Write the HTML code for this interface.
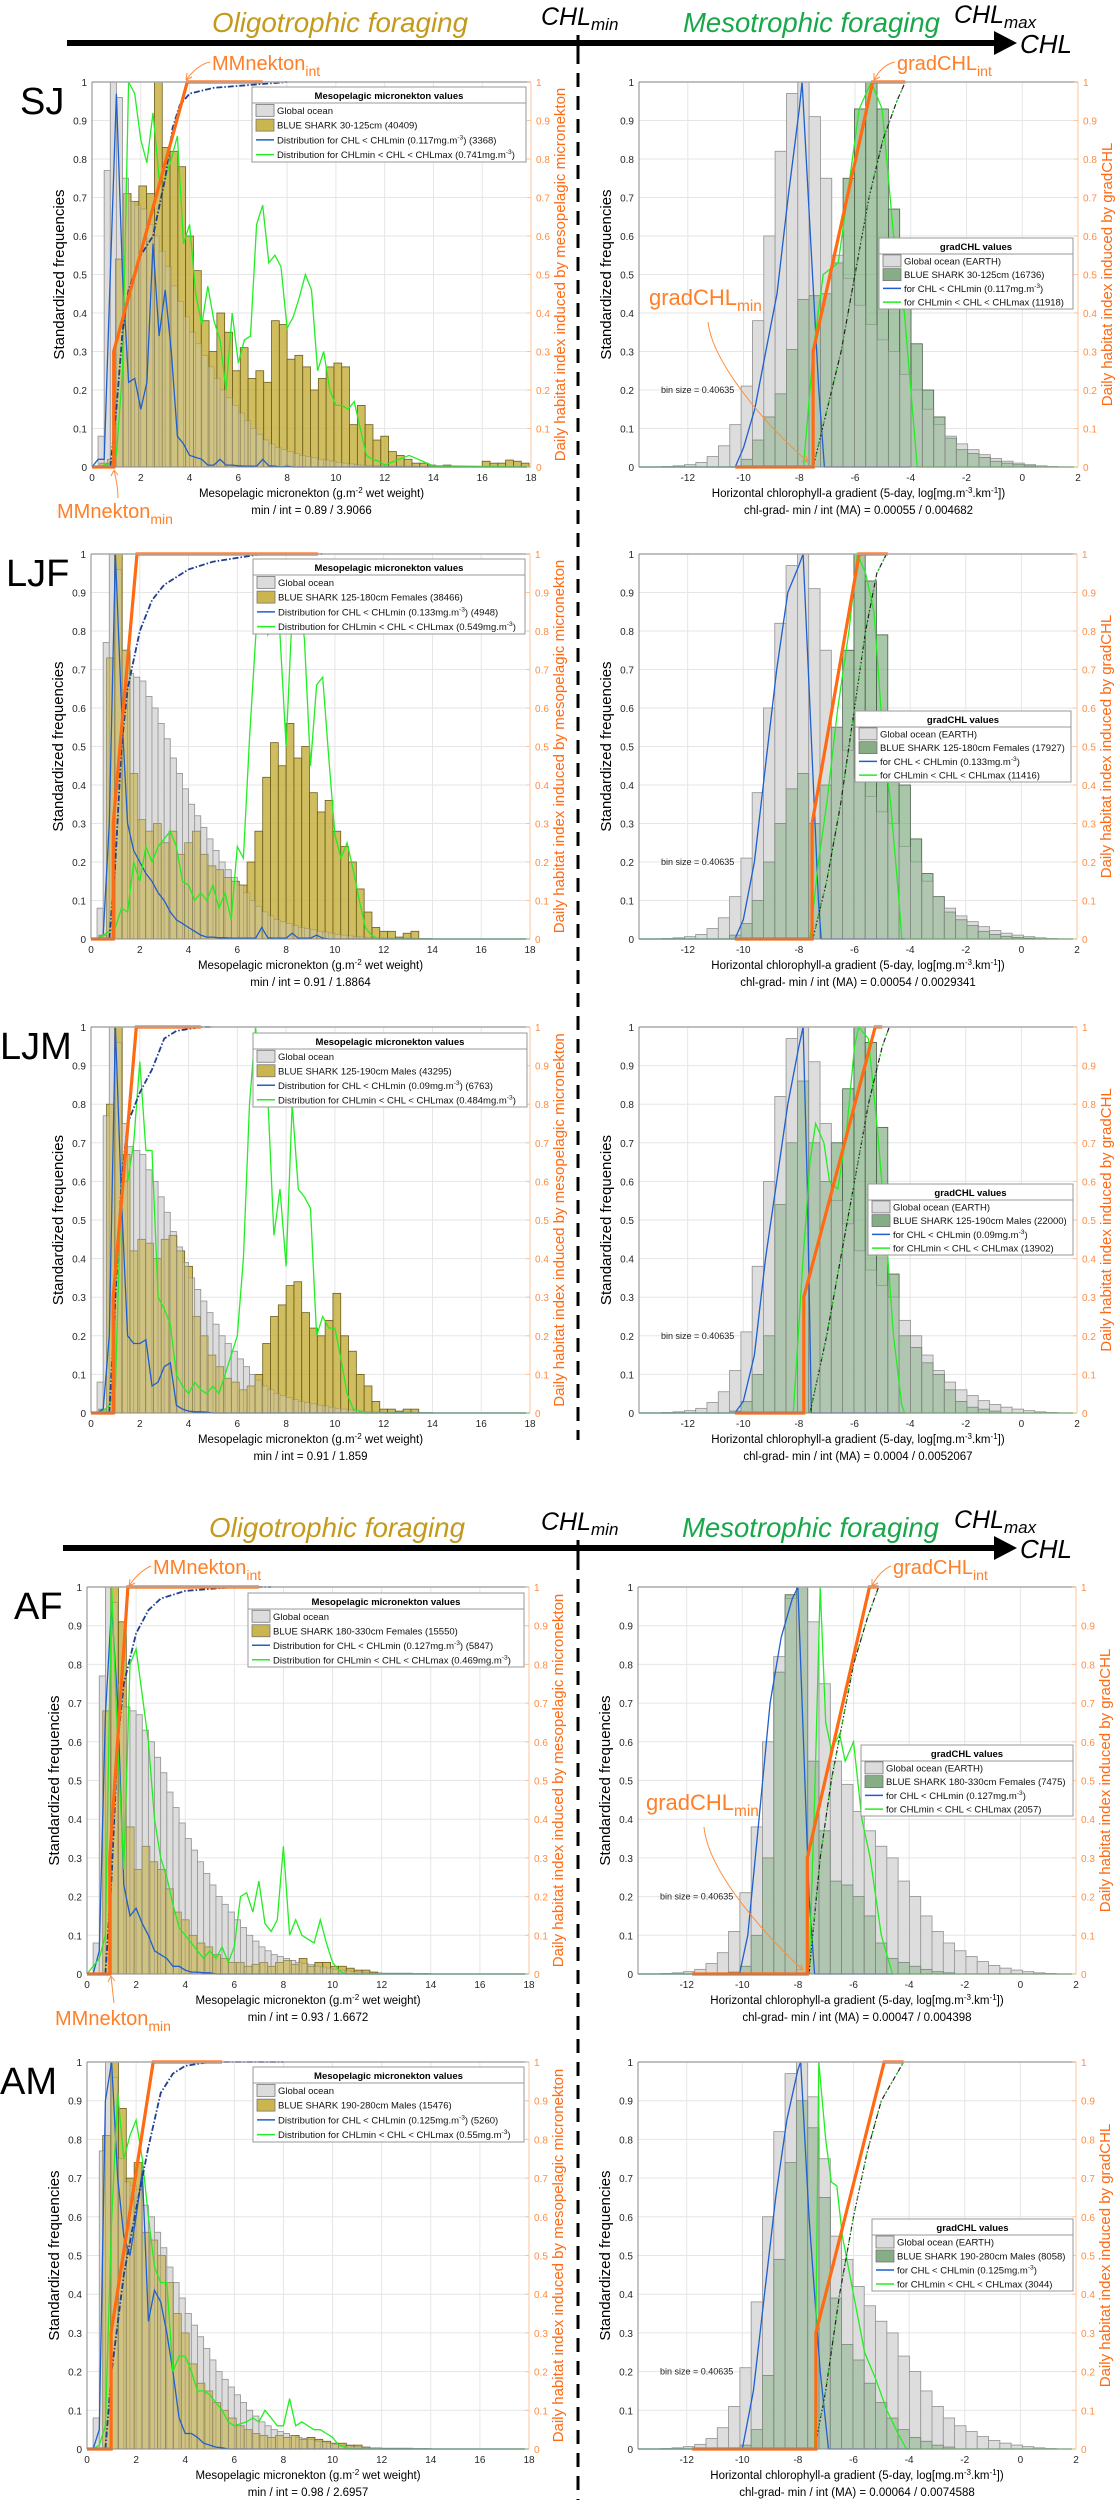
<!DOCTYPE html>
<html><head><meta charset="utf-8"><style>
html,body{margin:0;padding:0;background:#fff;}
svg{display:block;font-family:"Liberation Sans",sans-serif;}
</style></head><body>
<svg id="fig" xmlns="http://www.w3.org/2000/svg" width="1116" height="2500" viewBox="0 0 1116 2500"></svg>
<script>
// ---------- DATA ----------
const yTicks=[0,0.1,0.2,0.3,0.4,0.5,0.6,0.7,0.8,0.9,1];
const yTickLabels=['0','0.1','0.2','0.3','0.4','0.5','0.6','0.7','0.8','0.9','1'];
const leftXTicks=[0,2,4,6,8,10,12,14,16,18];
const rightXTicks=[-12,-10,-8,-6,-4,-2,0,2];
const LX=[0,0.25,0.5,0.75,1,1.25,1.5,1.75,2,2.25,2.5,2.75,3,3.25,3.5,3.75,4,4.25,4.5,4.75,5,5.25,5.5,5.75,6,6.25,6.5,6.75,7,7.25,7.5,7.75,8,8.25,8.5,8.75,9,9.25,9.5,9.75,10,10.25,10.5,10.75,11,11.25,11.5,11.75,12,13,14,18];
const grayLeft=[0,.08,.77,1.0,.96,.75,.69,.68,.67,.63,.6,.56,.52,.47,.43,.39,.35,.32,.29,.26,.23,.2,.18,.16,.14,.12,.1,.085,.07,.06,.05,.045,.04,.035,.03,.027,.024,.02,.018,.015,.012,.01,.008,.006,.005,.004,.003,.003,.002,.002,.002,.002,.002,.001,.001,.001];
const grayRight=[.001,.003,.006,.012,.027,.055,.11,.21,.38,.6,.82,.97,1.0,.91,.75,.55,.49,.42,.37,.33,.3,.24,.2,.15,.11,.08,.06,.045,.032,.022,.015,.01,.006,.003,.001];

const sjYellow=[0,.01,.02,.54,.71,.69,.73,.71,1.0,.83,.82,.78,.6,.51,.38,.3,.4,.35,.25,.31,.23,.25,.22,.38,.37,.28,.29,.26,.2,.23,.26,.27,.26,.11,.16,.11,.07,.08,.04,.03,.02,.01,.01,.005,0,.005,0,0,0,0,.015,.01,.01,.018,.015,.01];
const sjBlue=[0,.02,.02,.5,.97,.5,.22,.23,.15,.22,.58,.34,.46,.3,.08,.06,.03,.025,.02,.005,.005,.02,.005,.005,.003,.002,.002,.002,.02,.003,.002,0,.002,0,0,0,0,0,0,0,0,0,0,0,0,0,0,0,0,0,0,0];
const sjGreen=[0,0,.005,.01,.03,.25,1.0,.97,.85,.79,.92,.75,.75,.8,.86,.58,.63,.45,.37,.47,.38,.33,.2,.4,.27,.33,.34,.63,.68,.53,.55,.52,.36,.39,.44,.5,.46,.25,.3,.2,.16,.16,.15,.17,.1,.03,.02,.015,.005,.03,.003,0];
const sjCumX=[0.75,1.0,1.25,1.5,2,2.5,3,3.3,3.6,4,5,6,8];
const sjCumY=[0,.15,.35,.46,.55,.6,.75,.88,.94,.97,.985,.99,1.0];
const sjMinInt=[0.89,3.9066];
const sjRGreen=[0,0,0,0,0,0,0,.02,.07,.13,.19,.305,.435,.445,.45,.53,.75,.93,1.0,.93,.67,.43,.32,.2,.13,.075,.045,.035,.025,.015,.01,.006,.003,0,0];
const sjRBlueX=[-13.75,-10.3,-10,-9.6,-9.2,-8.8,-8.4,-8.0,-7.9,-7.6,-7.3,-7.1,-4];
const sjRBlueY=[0,0,.05,.15,.3,.45,.7,.93,1.0,.6,.2,0,0];
const sjRGreenX=[-13.75,-7.85,-7.5,-7.14,-6.6,-5.85,-5.42,-5.03,-4.55,-4.23,-3.77,2];
const sjRGreenY=[0,0,.3,.5,.53,.93,1.0,.93,.55,.4,0,0];
const sjRCumX=[-7.5,-7.0,-6.5,-6.0,-5.5,-5.0,-4.5,-4.2];
const sjRCumY=[0,.15,.3,.5,.7,.85,.95,1.0];
const sjRMinInt=[0.00055,0.004682];

const ljfYellow=[0,.01,.73,1.0,.75,.43,.31,.28,.3,.25,.28,.22,.25,.28,.22,.19,.18,.16,.15,.14,.2,.28,.42,.51,.45,.56,.47,.5,.38,.33,.36,.28,.24,.2,.13,.07,.03,.02,.02,.005,.015,.02,0];
const ljfBlue=[0,0,.01,.3,1.0,.6,.3,.23,.2,.17,.15,.12,.1,.07,.05,.04,.03,.02,.01,.005,.005,.003,.003,.002,.002,.002,.002,.002,.03,.003,.002,.002,.002,.015,.002,.002,.002,.01,.002,0,0,0,0,0,0,0,0,0,0,0,0,0];
const ljfGreen=[0,0,.01,.02,.03,.08,.07,.2,.15,.24,.2,.24,.26,.28,.24,.15,.14,.1,.12,.1,.14,.08,.12,.05,.24,.21,.52,.78,.97,.79,.82,.79,.5,.85,.9,.78,.45,.66,.68,.47,.27,.21,.25,.18,.1,.03,.01,0,0,0,0,0];
const ljfCumX=[0.75,1.0,1.25,1.5,2.0,2.5,3.0,4,5,6,7,9.5];
const ljfCumY=[0,.2,.5,.65,.8,.88,.92,.96,.98,.99,1.0,1.0];
const ljfMinInt=[0.91,1.8864];
const ljfRGreen=[0,0,0,0,0,0,.01,.04,.1,.2,.3,.39,.43,.3,.4,.55,.75,1.0,.93,.79,.58,.4,.26,.17,.11,.07,.05,.035,.02,.012,.007,.004,.002,0,0];
const ljfRBlueX=[-13.75,-10.3,-10,-9.6,-9.2,-8.8,-8.4,-8.0,-7.85,-7.6,-7.3,-7.2,-4.2];
const ljfRBlueY=[0,0,.05,.2,.45,.7,.9,.97,1.0,.6,.1,0,0];
const ljfRGreenX=[-13.75,-7.6,-7.3,-7.0,-6.6,-6.2,-5.9,-5.6,-5.3,-5.0,-4.7,-4.4,-4.3,2];
const ljfRGreenY=[0,0,.2,.35,.6,.8,1.0,.95,.85,.55,.35,.1,0,0];
const ljfRCumX=[-7.5,-7,-6.5,-6.0,-5.6,-5.2,-4.85];
const ljfRCumY=[0,.15,.35,.6,.8,.95,1.0];
const ljfRMinInt=[0.00054,0.0029341];

const ljmYellow=[0,.01,.8,1.0,.67,.42,.45,.44,.4,.45,.46,.42,.38,.25,.2,.15,.12,.09,.08,.06,.07,.1,.18,.25,.28,.33,.34,.26,.22,.2,.24,.31,.2,.16,.1,.07,.03,.01,.01,.005,.01,.01,0];
const ljmBlue=[0,0,.01,.2,1.0,.55,.2,.18,.18,.19,.07,.08,.12,.13,.02,.01,.005,.003,.003,.002,0,0,0,0,0,0,0,0,0,0,0,0,0,0,0,0,0,0,0,0,0,0,0,0,0,0,0,0,0,0,0,0];
const ljmGreen=[0,0,.005,.02,.07,.6,.6,.7,.91,.68,.68,.3,.27,.23,.1,.07,.05,.08,.06,.05,.07,.05,.1,.15,.2,.4,.8,1.0,.8,.82,.46,.58,.38,.8,.58,.56,.53,.2,.25,.22,.22,.14,.05,.01,.005,0,0,0,0,0,0,0];
const ljmCumX=[0.75,1.0,1.25,1.5,2.0,2.5,3.0,3.5,4.5,5.0];
const ljmCumY=[0,.3,.6,.75,.83,.89,.97,.99,1.0,1.0];
const ljmMinInt=[0.91,1.859];
const ljmRGreen=[0,0,0,0,0,0,.005,.03,.1,.2,.54,.7,.86,.7,.6,.7,.84,1.0,.96,.74,.36,.2,.17,.13,.1,.06,.03,.015,.01,.005,0,0,0,0,0];
const ljmRBlueX=[-13.75,-10.3,-10,-9.6,-9.2,-8.8,-8.4,-8.0,-7.85,-7.7,-7.55,-4.2];
const ljmRBlueY=[0,0,.03,.15,.4,.6,.8,.95,1.0,.6,0,0];
const ljmRGreenX=[-13.75,-8.2,-7.85,-7.6,-7.4,-7.1,-6.9,-6.6,-6.3,-6.0,-5.85,-5.5,-5.2,-4.9,-4.6,-4.3,-4.2,2];
const ljmRGreenY=[0,0,.4,.65,.75,.7,.6,.58,.72,.95,1.0,.97,.75,.5,.2,.02,0,0];
const ljmRCumX=[-7.6,-7,-6.5,-6,-5.5,-5.0,-4.75];
const ljmRCumY=[0,.2,.4,.6,.8,.95,1.0];
const ljmRMinInt=[0.0004,0.0052067];

const afYellow=[0,0,.68,1.0,.91,.38,.27,.33,.29,.27,.22,.16,.14,.1,.08,.07,.05,.04,.03,.03,.02,.025,.03,.02,.03,.035,.025,.04,.02,.03,.03,.02,.02,.015,.01,.01,.005];
const afBlue=[0,0,.06,.67,.95,.7,.23,.15,.17,.13,.1,.06,.05,.04,.02,.02,.01,.005,.005,.003,.003,0,0,0,0,0,0,0,0,0,0,0,0,0,0,0,0,0,0,0,0,0,0,0,0,0,0,0,0,0,0,0];
const afGreen=[0,.02,.04,.1,1.0,.6,.27,.8,.84,.72,.6,.4,.3,.25,.18,.12,.1,.08,.06,.04,.06,.04,.07,.03,.07,.2,.21,.16,.24,.13,.11,.14,.33,.1,.14,.1,.09,.08,.14,.08,.03,.01,0,0,0,0,0,0,0,0,0,0];
const afCumX=[0.75,1.0,1.25,1.5,2.0,2.5,3,4,6,7.5];
const afCumY=[0,.25,.6,.75,.88,.94,.97,.99,1.0,1.0];
const afMinInt=[0.93,1.6672];
const afRGreen=[0,0,0,0,0,0,.005,.02,.1,.3,.78,.98,1.0,.55,.37,.24,.23,.2,.15,.08,.04,.03,.02,.012,.006,.003,0,0,0,0,0,0,0,0,0];
const afRBlueX=[-13.75,-10.1,-9.8,-9.4,-9.0,-8.6,-8.2,-8.0,-7.8,-7.6,-7.4,-4.6];
const afRBlueY=[0,0,.1,.4,.7,.87,.97,1.0,.6,.2,0,0];
const afRGreenX=[-13.75,-7.6,-7.4,-7.2,-7.0,-6.8,-6.5,-6.3,-6.0,-5.7,-5.4,-5.0,-4.6,2];
const afRGreenY=[0,0,.45,1.0,.65,.58,.62,.55,.6,.4,.3,.1,0,0];
const afRCumX=[-7.6,-7.2,-6.8,-6.4,-6.0,-5.5,-5.1];
const afRCumY=[0,.3,.5,.65,.8,.92,1.0];
const afRMinInt=[0.00047,0.004398];

const amYellow=[0,0,.81,1.0,.88,.7,.74,.56,.54,.5,.43,.35,.3,.22,.17,.15,.12,.1,.08,.06,.05,.04,.035,.03,.035,.03,.035,.025,.03,.025,.02,.015,.015,.01,.01,.005];
const amBlue=[0,0,.05,.9,1.0,.7,.55,.5,.6,.72,.33,.41,.38,.3,.2,.08,.04,.04,.03,.015,.01,.005,.003,0,0,0,0,0,0,0,0,0,0,0,0,0,0,0,0,0,0,0,0,0,0,0,0,0,0,0,0,0];
const amGreen=[0,0,.01,.06,.59,.92,.75,.81,.85,.75,.6,.47,.43,.43,.2,.24,.24,.2,.15,.15,.14,.12,.1,.07,.06,.065,.07,.08,.07,.1,.08,.06,.06,.13,.06,.07,.06,.05,.05,.04,.03,.01,.005,0,0,0,0,0,0,0,0,0];
const amCumX=[0.75,1.0,1.5,2.0,2.5,3.0,3.5,4,5,8];
const amCumY=[0,.2,.45,.62,.78,.92,.97,.99,1.0,1.0];
const amMinInt=[0.98,2.6957];
const amRGreen=[0,0,0,0,0,0,0,.01,.05,.19,.49,.74,.9,.83,.65,.39,.27,.23,.17,.12,.08,.05,.03,.02,.01,.005,0,0,0,0,0,0,0,0,0];
const amRBlueX=[-13.75,-10,-9.6,-9.2,-8.8,-8.4,-8.0,-7.9,-7.6,-7.2,-6.9,-4.0];
const amRBlueY=[0,0,.15,.4,.65,.85,.98,1.0,.6,.2,0,0];
const amRGreenX=[-13.75,-7.4,-7.25,-7.0,-6.8,-6.6,-6.4,-6.0,-5.6,-5.2,-4.8,-4.4,-4.1,2];
const amRGreenY=[0,0,1.0,.8,.69,.68,.55,.4,.25,.18,.1,.04,0,0];
const amRCumX=[-7.4,-7,-6.5,-6,-5.5,-5.0,-4.2];
const amRCumY=[0,.15,.4,.6,.77,.9,1.0];
const amRMinInt=[0.00064,0.0074588];

// ---------- DRAWING ----------
const NS='http://www.w3.org/2000/svg';
const svg=document.getElementById('fig');
const OR='#ff6a13', ORL='#ff8c42';
function mk(tag,attrs,parent){const e=document.createElementNS(NS,tag);for(const k in attrs)e.setAttribute(k,attrs[k]);(parent||svg).appendChild(e);return e;}
function tx(parent,x,y,str,attrs){const a=Object.assign({x:x,y:y},attrs||{});const e=mk('text',a,parent);e.textContent=str;return e;}
function fitText(e,maxW){try{const w=e.getComputedTextLength();if(w>maxW){e.setAttribute('textLength',maxW);e.setAttribute('lengthAdjust','spacingAndGlyphs');}}catch(err){}}
function sup(parent,str,dy){const t=mk('tspan',{dy:dy,'font-size':'0.7em'},parent);t.textContent=str;return t;}
function plain(parent,str,dy){const t=mk('tspan',{dy:dy},parent);t.textContent=str;return t;}

function header(y,lineX0,oligoX,mesoX,chlMinX,chlMaxX){
  const g=mk('g',{});
  
  
  const ln=mk('line',{x1:lineX0,y1:y,x2:998,y2:y,stroke:'#000','stroke-width':6},g);
  
  
  const hd=mk('polygon',{points:`994,${y-12} 994,${y+12} 1017,${y}`,fill:'#000'},g);
  
  
  const tk=mk('line',{x1:578,y1:y-8,x2:578,y2:y+8,stroke:'#000','stroke-width':3},g);
  
  
  const t1=tx(g,oligoX,y-11,'Oligotrophic foraging',{'font-size':28,'font-style':'italic',fill:'#c49a1c',textLength:256,lengthAdjust:'spacingAndGlyphs'});
  
  
  const t2=tx(g,mesoX,y-11,'Mesotrophic foraging',{'font-size':28,'font-style':'italic',fill:'#18a84a',textLength:257,lengthAdjust:'spacingAndGlyphs'});
  
  
  const t3=tx(g,chlMinX,y-18,'CHL',{'font-size':25,'font-style':'italic',fill:'#000'});
  sup(t3,'min',5).setAttribute('font-size','17');
  
  
  const t4=tx(g,chlMaxX,y-20,'CHL',{'font-size':25,'font-style':'italic',fill:'#000'});
  sup(t4,'max',5).setAttribute('font-size','17');
  
  
  const t5=tx(g,1020,y+10,'CHL',{'font-size':26,'font-style':'italic',fill:'#000'});
  
  
}

function dashed(y1,y2){
  const d=mk('line',{x1:578,y1:y1,x2:578,y2:y2,stroke:'#000','stroke-width':3,'stroke-dasharray':'14 9'});
  
  
}

function axesFrame(g,p,X,Y,xTicks){
  for(const v of xTicks){
    const l=mk('line',{x1:X(v),y1:p.top,x2:X(v),y2:p.bot,stroke:'#e6e6e6','stroke-width':1},g);
    
    
  }
  for(const v of yTicks){
    const l=mk('line',{x1:p.L,y1:Y(v),x2:p.R,y2:Y(v),stroke:'#e6e6e6','stroke-width':1},g);
    
    
  }
}
function axesOverlay(g,p,X,Y,xTicks,xLab,sub,yR){
  const tp=mk('line',{x1:p.L,y1:p.top,x2:p.R,y2:p.top,stroke:'#aaa','stroke-width':1.5},g);
  
  
  const la=mk('line',{x1:p.L,y1:p.top,x2:p.L,y2:p.bot,stroke:'#888','stroke-width':1},g);
  
  
  const ra=mk('line',{x1:p.R,y1:p.top,x2:p.R,y2:p.bot,stroke:'#ffc49a','stroke-width':1},g);
  
  
  const ba=mk('line',{x1:p.L,y1:p.bot,x2:p.R,y2:p.bot,stroke:'#888','stroke-width':1},g);
  
  
  yTicks.forEach((v,i)=>{
    const t=tx(g,p.L-5,Y(v)+4,yTickLabels[i],{'font-size':10,'text-anchor':'end',fill:'#262626'});
    
    
    const t2=tx(g,p.R+5,Y(v)+4,yTickLabels[i],{'font-size':10,'text-anchor':'start',fill:ORL});
    
    
    const tk=mk('line',{x1:p.R-4,y1:Y(v),x2:p.R,y2:Y(v),stroke:'#ffc49a'},g);
    
    
  });
  for(const v of xTicks){
    const t=tx(g,X(v),p.bot+14,String(v),{'font-size':10,'text-anchor':'middle',fill:'#262626'});
    
    
  }
  const cy=(p.top+p.bot)/2;
  const yl=tx(g,0,0,'Standardized frequencies',{'font-size':15,'text-anchor':'middle',fill:'#000',transform:`translate(${p.L-28},${cy}) rotate(-90)`});
  
  
  const yr=tx(g,0,0,yR,{'font-size':15,'text-anchor':'middle',fill:OR,transform:`translate(${p.R+34},${cy}) rotate(-90)`});
  
  
  const xl=tx(g,(p.L+p.R)/2,p.bot+30,'',{'font-size':11.5,'text-anchor':'middle',fill:'#000'});
  xLab(xl);
  
  
  const sl=tx(g,(p.L+p.R)/2,p.bot+47,sub,{'font-size':11.5,'text-anchor':'middle',fill:'#000'});
  
  
}

function bars(g,vals,w,x0,X,Y,fill,stroke,op,nm,sop){
  vals.forEach((v,i)=>{
    if(v<=0)return;
    const a=X(x0+i*w),b=X(x0+(i+1)*w);
    const r=mk('rect',{x:Math.min(a,b),y:Y(v),width:Math.abs(b-a),height:Y(0)-Y(v),fill:fill,stroke:stroke,'stroke-width':0.8,'fill-opacity':op,'stroke-opacity':(sop==null?1:sop)},g);
    
    
  });
}
function poly(g,xs,ys,X,Y,attrs,nm){
  const n=Math.min(xs.length,ys.length);const pts=[];
  for(let i=0;i<n;i++)pts.push(X(xs[i]).toFixed(1)+','+Y(ys[i]).toFixed(1));
  const e=mk('polyline',Object.assign({points:pts.join(' '),fill:'none'},attrs),g);
  
  
  return e;
}
function legend(g,box,title,items){
  const [x0,y0,x1,y1]=box;
  const r=mk('rect',{x:x0,y:y0,width:x1-x0,height:y1-y0,fill:'#fff',stroke:'#999','stroke-width':1},g);
  
  
  const th=16;
  const tt=tx(g,(x0+x1)/2,y0+12,title,{'font-size':9.5,'font-weight':'bold','text-anchor':'middle',fill:'#000'});
  
  
  const sp=mk('line',{x1:x0,y1:y0+th,x2:x1,y2:y0+th,stroke:'#999'},g);
  
  
  const rh=(y1-y0-th)/4;
  items.forEach((it,i)=>{
    const cy=y0+th+rh*(i+0.5);
    if(it.type==='bar'){
      const s=mk('rect',{x:x0+4,y:cy-6,width:18,height:12,fill:it.color,stroke:'#777','stroke-width':0.8},g);
      
      
    }else{
      const s=mk('line',{x1:x0+4,y1:cy,x2:x0+22,y2:cy,stroke:it.color,'stroke-width':1.5},g);
      
      
    }
    const t=tx(g,x0+25,cy+3.5,'',{'font-size':9.5,fill:'#111'});
    if(it.sup){plain(t,it.text[0],0);sup(t,it.sup,-4);plain(t,it.text[1],4);}else t.textContent=it.text;
    
    
    fitText(t,x1-x0-28);
  });
}

function leftPanel(p,d){
  const g=mk('g',{});
  
  
  const X=v=>p.L+v/18*(p.R-p.L), Y=v=>p.bot-v*(p.bot-p.top);
  axesFrame(g,p,X,Y,leftXTicks);
  bars(g,grayLeft,0.25,0,X,Y,'#d6d6d6','#8c8c8c',0.9,'global-ocean-bar');
  bars(g,d.yellow,0.32,0,X,Y,'#c2aa32','#6b5d1c',0.78,'blue-shark-bar');
  bars(g,grayLeft,0.25,0,X,Y,'#e4e4e4','#8c8c8c',0.3,'global-ocean-bar-overlay',0.3);
  poly(g,LX,d.blue,X,Y,{stroke:'#1f5fcf','stroke-width':1.3},'chl-below-min-line');
  poly(g,LX,d.green,X,Y,{stroke:'#22ee22','stroke-width':1.3},'chl-between-line');
  poly(g,d.cumX,d.cumY,X,Y,{stroke:'#1f3f8f','stroke-width':1.8,'stroke-dasharray':'6 2 1.5 2'},'cumulative-line');
  const mn=d.mi[0],it=d.mi[1];
  poly(g,[0,mn,mn,it,d.flat],[0,0,0.3,1,1],X,Y,{stroke:OR,'stroke-width':3.2},'habitat-index-line');
  axesOverlay(g,p,X,Y,leftXTicks,t=>{plain(t,'Mesopelagic micronekton (g.m',0);sup(t,'-2',-4);plain(t,' wet weight)',4);},
    'min / int = '+mn+' / '+it,'Daily habitat index induced by mesopelagic micronekton');
  legend(g,d.leg,'Mesopelagic micronekton values',[
    {type:'bar',color:'#dcdcdc',text:'Global ocean'},
    {type:'bar',color:'#cbb54e',text:'BLUE SHARK '+d.lab},
    {type:'line',color:'#1f5fcf',text:['Distribution for CHL < CHLmin ('+d.chl+'mg.m',') ('+d.n1+')'],sup:'-3'},
    {type:'line',color:'#22ee22',text:['Distribution for CHLmin < CHL < CHLmax ('+d.chlmax+'mg.m',')'],sup:'-3'}]);
  const lab=tx(g,d.lx,p.top+32,d.id,{'font-size':38,fill:'#000'});
  
  
}

function rightPanel(p,d){
  const g=mk('g',{});
  
  
  const d0=-13.75,d1=2;
  const X=v=>p.L+(v-d0)/(d1-d0)*(p.R-p.L), Y=v=>p.bot-v*(p.bot-p.top);
  axesFrame(g,p,X,Y,rightXTicks);
  const e0=-12.93,bw=0.40635;
  bars(g,grayRight,bw,e0,X,Y,'#d6d6d6','#8c8c8c',0.9,'global-ocean-bar');
  bars(g,d.rgreen,bw,e0,X,Y,'#7aa87a','#4a5f4a',0.65,'blue-shark-bar');
  bars(g,grayRight,bw,e0,X,Y,'#e4e4e4','#8c8c8c',0.3,'global-ocean-bar-overlay',0.3);
  poly(g,d.bx,d.by,X,Y,{stroke:'#1f5fcf','stroke-width':1.3},'chl-below-min-line');
  poly(g,d.gx,d.gy,X,Y,{stroke:'#22ee22','stroke-width':1.3},'chl-between-line');
  poly(g,d.cx,d.cy,X,Y,{stroke:'#222','stroke-width':1.2,'stroke-dasharray':'5 2 1.5 2'},'cumulative-line');
  poly(g,d.cx,d.cy,X,Y,{stroke:'#22cc22','stroke-width':1.2,'stroke-dasharray':'3 8'},'cumulative-line-green');
  const mn=Math.log(d.mi[0]),it=Math.log(d.mi[1]);
  poly(g,[d.z0,mn,mn,it,d.flat],[0,0,0.3,1,1],X,Y,{stroke:OR,'stroke-width':3.2},'habitat-index-line');
  const bs=tx(g,p.L+22,Y(0.2)+3,'bin size = 0.40635',{'font-size':9,fill:'#222'});
  
  
  axesOverlay(g,p,X,Y,rightXTicks,t=>{plain(t,'Horizontal chlorophyll-a gradient (5-day, log[mg.m',0);sup(t,'-3',-4);plain(t,'.km',4);sup(t,'-1',-4);plain(t,'])',4);},
    'chl-grad- min / int (MA) = '+d.mi[0]+' / '+d.mi[1],'Daily habitat index induced by gradCHL');
  legend(g,d.leg,'gradCHL values',[
    {type:'bar',color:'#dcdcdc',text:'Global ocean (EARTH)'},
    {type:'bar',color:'#86ad86',text:'BLUE SHARK '+d.lab2},
    {type:'line',color:'#1f5fcf',text:['for CHL < CHLmin ('+d.chl+'mg.m',')'],sup:'-3'},
    {type:'line',color:'#22ee22',text:'for CHLmin < CHL < CHLmax ('+d.n2+')'}]);
}

function annot(str,subs,x,y,size,nm){
  const t=tx(svg,x,y,str,{'font-size':size,fill:'#ff7f27'});
  sup(t,subs,6).setAttribute('font-size',size*0.7);
  
  
}
function arrowPath(dStr,nm){
  const a=mk('path',{d:dStr,fill:'none',stroke:'#ff8c3a','stroke-width':1});
  
  
}

header(43,67,212,683,541,954);
header(1548,63,209,682,541,954);
dashed(50,1440);
dashed(1556,2500);

const rows=[
 {p:{top:82,bot:467,L:92,R:531},q:{top:82,bot:467,L:639,R:1078},d:{id:'SJ',lx:20,yellow:sjYellow,blue:sjBlue,green:sjGreen,cumX:sjCumX,cumY:sjCumY,mi:sjMinInt,flat:7,leg:[252,87,526,162],lab:'30-125cm  (40409)',chl:'0.117',n1:'3368',chlmax:'0.741',
   rgreen:sjRGreen,bx:sjRBlueX,by:sjRBlueY,gx:sjRGreenX,gy:sjRGreenY,cx:sjRCumX,cy:sjRCumY,rmi:sjRMinInt,rflat:-4.2,z0:-10.3,rleg:[879,238,1073,309],lab2:'30-125cm  (16736)',n2:'11918'}},
 {p:{top:554,bot:939,L:91,R:530},q:{top:554,bot:939,L:639,R:1077},d:{id:'LJF',lx:6,yellow:ljfYellow,blue:ljfBlue,green:ljfGreen,cumX:ljfCumX,cumY:ljfCumY,mi:ljfMinInt,flat:9.3,leg:[253,559,525,634],lab:'125-180cm Females (38466)',chl:'0.133',n1:'4948',chlmax:'0.549',
   rgreen:ljfRGreen,bx:ljfRBlueX,by:ljfRBlueY,gx:ljfRGreenX,gy:ljfRGreenY,cx:ljfRCumX,cy:ljfRCumY,rmi:ljfRMinInt,rflat:-4.8,z0:-10.3,rleg:[855,711,1071,782],lab2:'125-180cm Females (17927)',n2:'11416'}},
 {p:{top:1027,bot:1413,L:91,R:530},q:{top:1027,bot:1413,L:639,R:1077},d:{id:'LJM',lx:0,yellow:ljmYellow,blue:ljmBlue,green:ljmGreen,cumX:ljmCumX,cumY:ljmCumY,mi:ljmMinInt,flat:4.5,leg:[253,1033,527,1107],lab:'125-190cm Males (43295)',chl:'0.09',n1:'6763',chlmax:'0.484',
   rgreen:ljmRGreen,bx:ljmRBlueX,by:ljmRBlueY,gx:ljmRGreenX,gy:ljmRGreenY,cx:ljmRCumX,cy:ljmRCumY,rmi:ljmRMinInt,rflat:-5.0,z0:-10.3,rleg:[868,1184,1073,1255],lab2:'125-190cm Males (22000)',n2:'13902'}},
 {p:{top:1587,bot:1974,L:87,R:529},q:{top:1587,bot:1974,L:638,R:1076},d:{id:'AF',lx:14,yellow:afYellow,blue:afBlue,green:afGreen,cumX:afCumX,cumY:afCumY,mi:afMinInt,flat:7,leg:[248,1593,524,1667],lab:'180-330cm Females (15550)',chl:'0.127',n1:'5847',chlmax:'0.469',
   rgreen:afRGreen,bx:afRBlueX,by:afRBlueY,gx:afRGreenX,gy:afRGreenY,cx:afRCumX,cy:afRCumY,rmi:afRMinInt,rflat:-5.1,z0:-11.8,rleg:[861,1745,1073,1816],lab2:'180-330cm Females (7475)',n2:'2057'}},
 {p:{top:2062,bot:2449,L:87,R:529},q:{top:2062,bot:2449,L:638,R:1076},d:{id:'AM',lx:0,yellow:amYellow,blue:amBlue,green:amGreen,cumX:amCumX,cumY:amCumY,mi:amMinInt,flat:5.5,leg:[253,2067,524,2142],lab:'190-280cm Males (15476)',chl:'0.125',n1:'5260',chlmax:'0.55',
   rgreen:amRGreen,bx:amRBlueX,by:amRBlueY,gx:amRGreenX,gy:amRGreenY,cx:amRCumX,cy:amRCumY,rmi:amRMinInt,rflat:-4.2,z0:-11.8,rleg:[872,2219,1073,2291],lab2:'190-280cm Males (8058)',n2:'3044'}}
];
for(const r of rows){
  leftPanel(r.p,r.d);
  rightPanel(r.q,{id:r.d.id,rgreen:r.d.rgreen,bx:r.d.bx,by:r.d.by,gx:r.d.gx,gy:r.d.gy,cx:r.d.cx,cy:r.d.cy,mi:r.d.rmi,flat:r.d.rflat,z0:r.d.z0,leg:r.d.rleg,lab2:r.d.lab2,chl:r.d.chl,n2:r.d.n2});
}

annot('MMnekton','int',212,70,20,'mmnekton-int-annotation');
arrowPath('M210,62 C200,64 192,72 186,80 M186,80 l1,-7 M186,80 l6,-3','mmnekton-int-arrow');
annot('MMnekton','min',57,518,20,'mmnekton-min-annotation');
arrowPath('M118,498 C118,488 116,478 114,470 M114,470 l-3,6 M114,470 l4,5','mmnekton-min-arrow');
annot('gradCHL','int',897,70,20,'gradchl-int-annotation');
arrowPath('M895,62 C885,64 878,72 874,80 M874,80 l0,-7 M874,80 l6,-3','gradchl-int-arrow');
annot('gradCHL','min',649,305,22,'gradchl-min-annotation');
arrowPath('M708,322 C712,360 760,420 808,462 M808,462 l-7,-1 M808,462 l-2,-6','gradchl-min-arrow');
annot('MMnekton','int',153,1574,20,'mmnekton-int-annotation-2');
arrowPath('M151,1566 C142,1570 134,1578 129,1586 M129,1586 l1,-7 M129,1586 l6,-3','mmnekton-int-arrow-2');
annot('MMnekton','min',55,2025,20,'mmnekton-min-annotation-2');
arrowPath('M114,2003 C113,1995 112,1985 111,1976 M111,1976 l-3,6 M111,1976 l4,5','mmnekton-min-arrow-2');
annot('gradCHL','int',893,1574,20,'gradchl-int-annotation-2');
arrowPath('M891,1566 C882,1570 876,1578 872,1586 M872,1586 l0,-7 M872,1586 l6,-3','gradchl-int-arrow-2');
annot('gradCHL','min',646,1810,22,'gradchl-min-annotation-2');
arrowPath('M704,1827 C708,1870 760,1930 803,1970 M803,1970 l-7,-1 M803,1970 l-2,-6','gradchl-min-arrow-2');
</script>
</body></html>
